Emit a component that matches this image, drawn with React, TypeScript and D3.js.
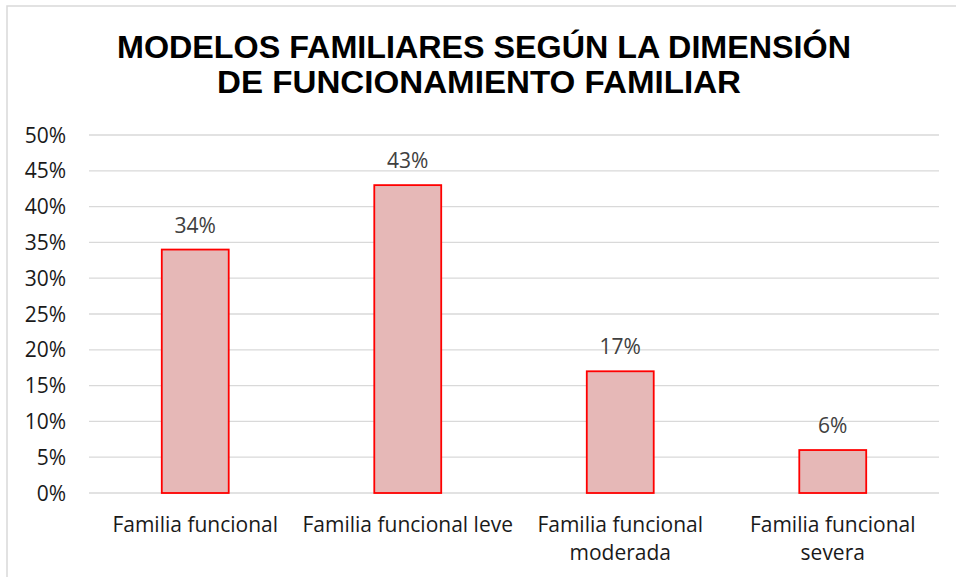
import React from "react";
import * as d3 from "d3";

const titleLines = ["MODELOS FAMILIARES SEGÚN LA DIMENSIÓN", "DE FUNCIONAMIENTO FAMILIAR"];
const categories = ["Familia funcional", "Familia funcional leve", "Familia funcional\nmoderada", "Familia funcional\nsevera"];
const values = [34, 43, 17, 6];
const yTicks = [0, 5, 10, 15, 20, 25, 30, 35, 40, 45, 50];

const W = 956;
const H = 577;
const M = { left: 89, right: 939, top: 135, bottom: 493 };

export default function App() {
  const x = d3.scaleBand<string>().domain(categories).range([M.left, M.right]).padding(0);
  const y = d3.scaleLinear().domain([0, 50]).range([M.bottom, M.top]);
  const barW = x.bandwidth() * 0.315;
  const labelFont = "'Open Sans', 'Noto Sans', sans-serif";
  const fs = 21;

  return (
    <div style={{ position: "fixed", left: 0, top: 0 }}>
      <svg width={W} height={H} style={{ display: "block", background: "#fff" }}>
        <rect x={7} y={6} width={W + 20} height={H + 20} fill="#fff" stroke="#d9d9d9" strokeWidth={1.5} />
        <text
          x={484}
          y={58}
          textAnchor="middle"
          fontFamily="'Liberation Sans', Arial, sans-serif"
          fontWeight="bold"
          fontSize={31}
          fill="#000"
          textLength={734}
          lengthAdjust="spacingAndGlyphs"
        >
          {titleLines[0]}
        </text>
        <text
          x={479}
          y={93}
          textAnchor="middle"
          fontFamily="'Liberation Sans', Arial, sans-serif"
          fontWeight="bold"
          fontSize={31}
          fill="#000"
          textLength={524}
          lengthAdjust="spacingAndGlyphs"
        >
          {titleLines[1]}
        </text>
        {yTicks.map((t) => (
          <g key={t}>
            <line x1={M.left} x2={M.right} y1={y(t)} y2={y(t)} stroke="#d9d9d9" strokeWidth={1.3} />
            <text
              x={66}
              y={y(t)}
              dy="0.36em"
              textAnchor="end"
              fontFamily={labelFont}
              fontSize={fs}
              fill="#1a1a1a"
            >
              {t + "%"}
            </text>
          </g>
        ))}
        {categories.map((c, i) => {
          const cx = (x(c) as number) + x.bandwidth() / 2;
          const v = values[i];
          return (
            <g key={c}>
              <rect
                x={cx - barW / 2}
                y={y(v)}
                width={barW}
                height={y(0) - y(v)}
                fill="#e6b8b7"
                stroke="#ff0000"
                strokeWidth={1.8}
              />
              <text
                x={cx}
                y={y(v) - 17}
                textAnchor="middle"
                fontFamily={labelFont}
                fontSize={fs}
                fill="#404040"
              >
                {v + "%"}
              </text>
              {c.split("\n").map((line, j) => (
                <text
                  key={j}
                  x={cx}
                  y={532 + j * 28}
                  textAnchor="middle"
                  fontFamily={labelFont}
                  fontSize={fs}
                  fill="#1a1a1a"
                >
                  {line}
                </text>
              ))}
            </g>
          );
        })}
      </svg>
    </div>
  );
}
